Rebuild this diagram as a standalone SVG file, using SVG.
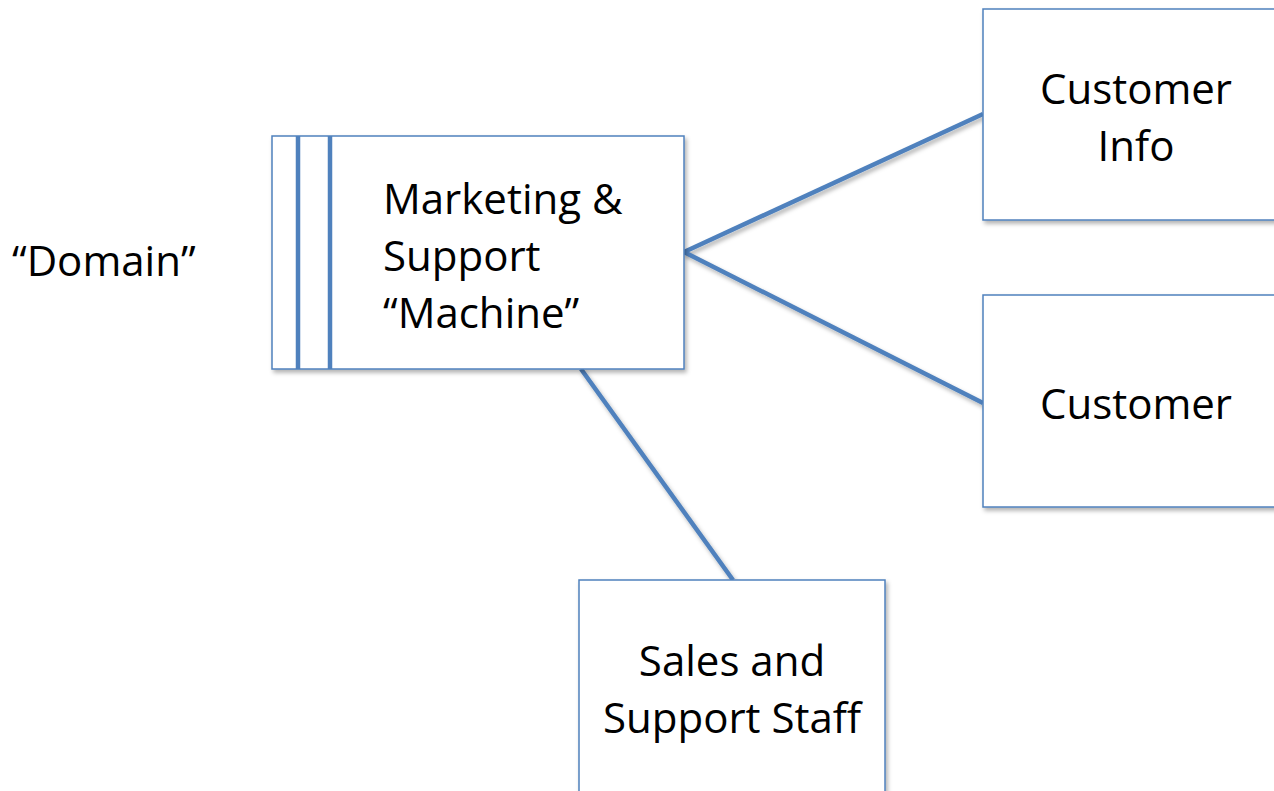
<svg xmlns="http://www.w3.org/2000/svg" width="1274" height="791" viewBox="0 0 1274 791">
  <style>
    .box { fill: #ffffff; stroke: #4F81BD; stroke-width: 1.5; filter: url(#shadow); }
    .bar { stroke: #4F81BD; stroke-width: 4.5; }
    .link { stroke: #4F81BD; stroke-width: 4.5; fill: none; filter: url(#shadow); }
    .label { font-family: "Open Sans", "Liberation Sans", sans-serif; font-size: 42px; fill: #000000; }
    .mid { text-anchor: middle; }
  </style>
  <defs>
    <filter id="shadow" x="-10%" y="-10%" width="130%" height="130%">
      <feDropShadow dx="2" dy="3" stdDeviation="2" flood-color="#000000" flood-opacity="0.3"/>
    </filter>
  </defs>
  <rect width="1274" height="791" fill="#ffffff"/>

  <!-- connectors -->
  <g id="connectors">
    <line class="link" x1="684" y1="252" x2="983" y2="114"/>
    <line class="link" x1="684" y1="252" x2="983" y2="403"/>
    <line class="link" x1="581" y1="369" x2="733" y2="580"/>
  </g>

  <!-- outer label -->
  <g id="domain">
    <text class="label" x="12" y="276">“Domain”</text>
  </g>

  <!-- machine -->
  <g id="machine">
    <rect class="box" x="272" y="136" width="412" height="233"/>
    <line class="bar" x1="298" y1="136" x2="298" y2="369"/>
    <line class="bar" x1="330" y1="136" x2="330" y2="369"/>
    <text class="label" x="383" y="214">Marketing &amp;</text>
    <text class="label" x="383" y="271">Support</text>
    <text class="label" x="383" y="328">“Machine”</text>
  </g>

  <!-- customer info -->
  <g id="customer-info">
    <rect class="box" x="983" y="9" width="310" height="211"/>
    <text class="label mid" x="1136" y="104">Customer</text>
    <text class="label mid" x="1136" y="161">Info</text>
  </g>

  <!-- customer -->
  <g id="customer">
    <rect class="box" x="983" y="295" width="310" height="212"/>
    <text class="label mid" x="1136" y="419">Customer</text>
  </g>

  <!-- sales and support staff -->
  <g id="staff">
    <rect class="box" x="579" y="580" width="306" height="230"/>
    <text class="label mid" x="732" y="676">Sales and</text>
    <text class="label mid" x="732" y="733">Support Staff</text>
  </g>
</svg>
